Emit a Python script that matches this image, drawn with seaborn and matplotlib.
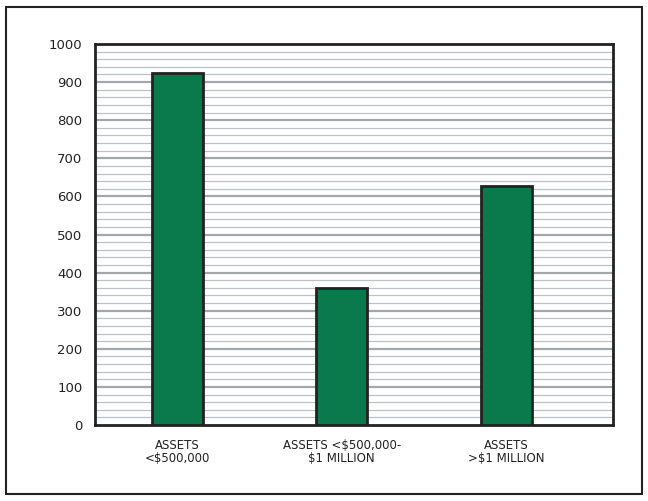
import matplotlib
matplotlib.use("Agg")
import matplotlib.pyplot as plt
import seaborn as sns
import pandas as pd
from matplotlib.patches import Rectangle

categories = ["ASSETS\n<$500,000", "ASSETS <$500,000-\n$1 MILLION", "ASSETS\n>$1 MILLION"]
values = [924, 360, 627]
yticks = [0, 100, 200, 300, 400, 500, 600, 700, 800, 900, 1000]

sns.set_theme(style="white")
plt.rcParams['font.family'] = ['DejaVu Sans']

fig = plt.figure(figsize=(6.48, 5.01), dpi=100)
fig.patches.append(Rectangle((6/648, 7/501), 636/648, 487/501, transform=fig.transFigure,
                             fill=False, edgecolor="#222222", linewidth=1.5, zorder=0))
ax = fig.add_axes([95/648, 1 - 425/501, 518/648, 381/501])

df = pd.DataFrame({"cat": categories, "val": values})
sns.barplot(data=df, x="cat", y="val", ax=ax, color="#0a7a4c", saturation=1,
            width=0.31, edgecolor="#222222", linewidth=2, zorder=3)

for v in range(20, 1000, 20):
    if v % 100 == 0:
        ax.axhline(v, color="#a3a7ab", linewidth=1.6, zorder=1)
    else:
        ax.axhline(v, color="#bdc1c5", linewidth=0.9, zorder=1)

ax.set_xlim(-0.5, 2.65)
ax.set_ylim(0, 1000)
ax.set_yticks(yticks)
ax.set_yticklabels([str(t) for t in yticks], fontsize=9.5, color="#222222")
ax.tick_params(axis="y", length=0, pad=9)
ax.tick_params(axis="x", length=0, pad=10, labelsize=8.5, labelcolor="#222222")
for lab in ax.get_xticklabels():
    lab.set_linespacing(1.0)
ax.set_xlabel("")
ax.set_ylabel("")
for s in ax.spines.values():
    s.set_color("#222222")
    s.set_linewidth(2)
    s.set_visible(True)

fig.savefig("out.png", dpi=100)
